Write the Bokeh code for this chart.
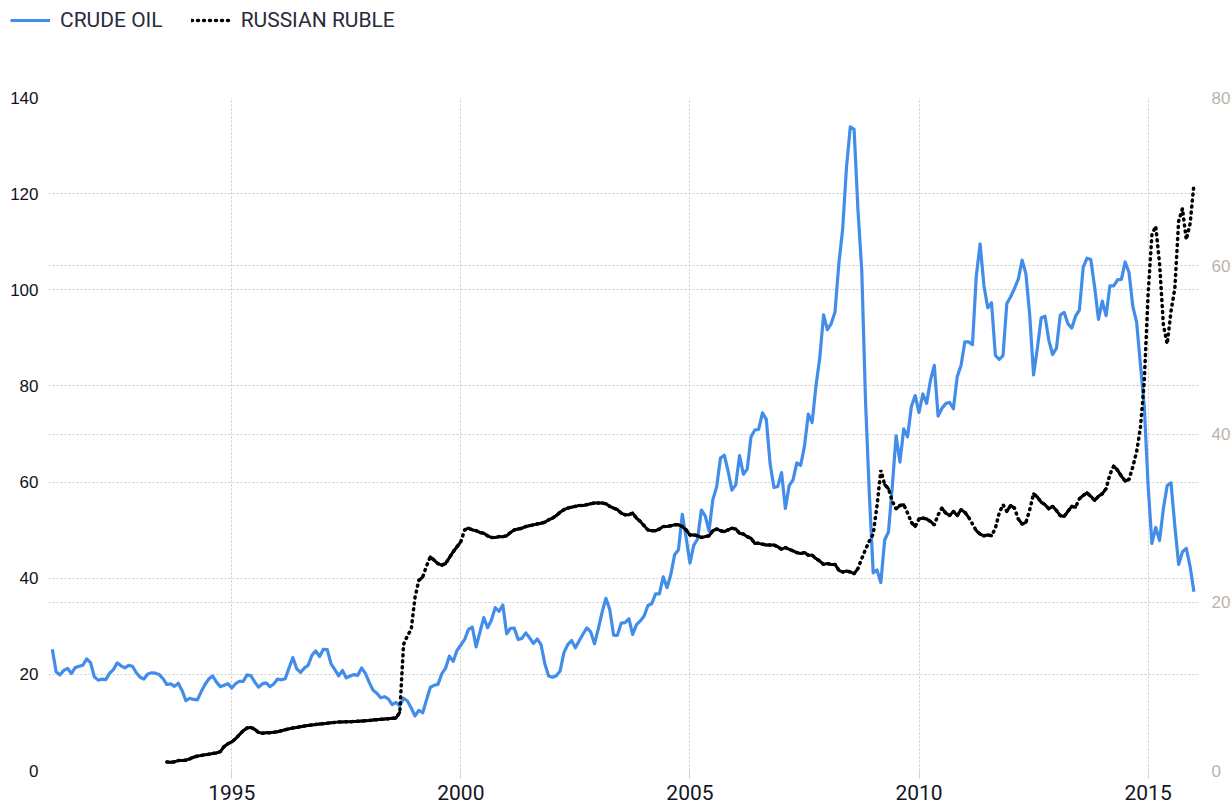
from bokeh.plotting import figure
from bokeh.layouts import column
from bokeh.models import Range1d, LinearAxis, FixedTicker, Grid, Legend, LegendItem
from bokeh.embed import file_html
from bokeh.resources import INLINE

# ---------------- data (monthly) ----------------
oil_start = (1991, 1)
oil_1991_1995 = [25.23, 20.48, 19.90, 20.83, 21.23, 20.19, 21.40, 21.69, 21.89, 23.23, 22.46, 19.50,
                 18.79, 19.01, 18.92, 20.23, 20.98, 22.39, 21.78, 21.34, 21.88, 21.69, 20.34, 19.41,
                 19.03, 20.09, 20.32, 20.25, 19.95, 19.09, 17.89, 18.01, 17.50, 18.15, 16.61, 14.52,
                 15.03, 14.78, 14.68, 16.42, 17.89, 19.06, 19.66, 18.38, 17.45, 17.72, 18.07, 17.16,
                 18.04, 18.57, 18.54, 19.90, 19.74, 18.45, 17.33, 18.02, 18.23, 17.43, 17.99, 19.03]
oil_1996_2000 = [18.86, 19.09, 21.33, 23.50, 21.17, 20.42, 21.30, 21.90, 23.97, 24.88, 23.71, 25.23,
                 25.13, 22.18, 20.97, 19.70, 20.82, 19.26, 19.66, 19.95, 19.80, 21.33, 20.19, 18.33,
                 16.72, 16.06, 15.12, 15.35, 14.91, 13.72, 14.17, 13.47, 15.03, 14.46, 13.00, 11.35,
                 12.52, 12.01, 14.68, 17.31, 17.72, 17.92, 20.10, 21.28, 23.80, 22.69, 25.00, 26.10,
                 27.26, 29.37, 29.84, 25.72, 28.79, 31.82, 29.70, 31.26, 33.88, 33.11, 34.42, 28.44]
oil_2001_2005 = [29.59, 29.61, 27.25, 27.49, 28.63, 27.60, 26.43, 27.37, 26.20, 22.17, 19.64, 19.39,
                 19.72, 20.72, 24.53, 26.18, 27.04, 25.52, 26.97, 28.39, 29.66, 28.84, 26.35, 29.46,
                 32.95, 35.83, 33.51, 28.17, 28.11, 30.66, 30.75, 31.57, 28.31, 30.34, 31.11, 32.13,
                 34.31, 34.69, 36.74, 36.75, 40.28, 38.03, 40.78, 44.90, 45.94, 53.28, 48.47, 43.15,
                 46.84, 48.15, 54.19, 52.98, 49.83, 56.35, 59.00, 64.99, 65.59, 62.26, 58.32, 59.41]
oil_2006_2010 = [65.49, 61.63, 62.69, 69.44, 70.84, 70.95, 74.41, 73.04, 63.80, 58.89, 59.08, 61.96,
                 54.51, 59.28, 60.44, 63.98, 63.46, 67.49, 74.12, 72.36, 79.92, 85.80, 94.77, 91.69,
                 92.97, 95.39, 105.45, 112.58, 125.40, 133.88, 133.37, 116.67, 104.11, 76.61, 57.31, 41.12,
                 41.71, 39.09, 47.94, 49.65, 59.03, 69.64, 64.15, 71.05, 69.41, 75.72, 77.99, 74.47,
                 78.33, 76.39, 81.20, 84.29, 73.74, 75.34, 76.32, 76.60, 75.24, 81.89, 84.25, 89.15]
oil_2011_2015 = [89.17, 88.58, 102.86, 109.53, 100.90, 96.26, 97.30, 86.33, 85.52, 86.32, 97.16, 98.56,
                 100.27, 102.20, 106.16, 103.32, 94.66, 82.30, 87.90, 94.13, 94.51, 89.49, 86.53, 87.86,
                 94.76, 95.31, 92.94, 92.02, 94.51, 95.77, 104.67, 106.57, 106.29, 100.54, 93.86, 97.63,
                 94.62, 100.82, 100.80, 102.07, 102.18, 105.79, 103.59, 96.54, 93.21, 84.40, 75.79, 59.29,
                 47.22, 50.58, 47.82, 54.45, 59.27, 59.82, 50.90, 42.87, 45.48, 46.22, 42.44, 37.19]

ruble_start = (1993, 7)
ruble_1993_1995 = [1.00, 0.99, 1.03, 1.19, 1.19, 1.23,
                   1.39, 1.58, 1.71, 1.79, 1.86, 1.94, 2.03, 2.09, 2.25, 2.85, 3.18, 3.40,
                   3.78, 4.26, 4.72, 5.05, 5.12, 4.90, 4.53, 4.43, 4.48, 4.50, 4.55, 4.61]
ruble_1996_1998 = [4.72, 4.85, 4.95, 5.05, 5.12, 5.20, 5.28, 5.35, 5.42, 5.48, 5.53, 5.57,
                   5.62, 5.67, 5.72, 5.76, 5.78, 5.79, 5.80, 5.82, 5.85, 5.88, 5.91, 5.95,
                   6.00, 6.04, 6.08, 6.12, 6.16, 6.20, 6.24, 6.90, 15.0, 16.0, 16.8, 20.6]
ruble_1999_2001 = [22.6, 23.0, 24.3, 25.4, 25.0, 24.6, 24.4, 24.6, 25.3, 26.0, 26.6, 27.2,
                   28.6, 28.8, 28.6, 28.5, 28.3, 28.2, 27.9, 27.7, 27.7, 27.8, 27.8, 27.9,
                   28.3, 28.6, 28.7, 28.8, 29.0, 29.1, 29.2, 29.3, 29.4, 29.5, 29.8, 30.0]
ruble_2002_2004 = [30.3, 30.7, 31.0, 31.2, 31.3, 31.4, 31.5, 31.5, 31.6, 31.7, 31.8, 31.8,
                   31.8, 31.7, 31.4, 31.2, 31.0, 30.6, 30.4, 30.4, 30.6, 30.0, 29.6, 29.1,
                   28.6, 28.5, 28.5, 28.7, 29.0, 29.0, 29.1, 29.2, 29.2, 29.0, 28.6, 28.0]
ruble_2005_2007 = [28.0, 27.9, 27.7, 27.8, 27.9, 28.5, 28.7, 28.5, 28.4, 28.6, 28.8, 28.7,
                   28.2, 28.1, 27.8, 27.6, 27.0, 27.0, 26.9, 26.8, 26.8, 26.8, 26.6, 26.3,
                   26.5, 26.3, 26.1, 25.9, 25.8, 25.9, 25.6, 25.6, 25.2, 24.9, 24.5, 24.6]
ruble_2008_2010 = [24.5, 24.5, 23.8, 23.6, 23.7, 23.6, 23.4, 24.0, 25.2, 26.3, 27.3, 28.1,
                   31.5, 35.7, 34.0, 33.5, 32.0, 31.1, 31.5, 31.6, 30.6, 29.5, 29.0, 29.9,
                   30.0, 29.9, 29.6, 29.2, 30.4, 31.2, 30.6, 30.3, 30.8, 30.3, 31.0, 30.7]
ruble_2011_2013 = [30.1, 29.3, 28.5, 28.1, 27.9, 28.0, 27.9, 28.8, 30.6, 31.6, 30.8, 31.5,
                   31.2, 29.9, 29.3, 29.5, 31.0, 32.9, 32.5, 31.9, 31.6, 31.1, 31.4, 30.9,
                   30.3, 30.2, 30.8, 31.4, 31.3, 32.3, 32.7, 33.0, 32.6, 32.1, 32.6, 32.9]
ruble_2014_2015 = [33.5, 35.2, 36.2, 35.7, 35.0, 34.4, 34.6, 36.1, 37.9, 40.8, 46.3, 56.6,
                   63.7, 64.7, 60.3, 53.0, 50.7, 54.6, 57.3, 65.3, 66.8, 63.1, 65.0, 69.7]

left_ticks = [0, 20, 40, 60, 80, 100, 120, 140]
right_ticks = [0, 20, 40, 60, 80]
year_ticks = [1995, 2000, 2005, 2010, 2015]
series_labels = ["CRUDE OIL", "RUSSIAN RUBLE"]

# ---------------- build series ----------------
oil = oil_1991_1995 + oil_1996_2000 + oil_2001_2005 + oil_2006_2010 + oil_2011_2015
ruble = (ruble_1993_1995 + ruble_1996_1998 + ruble_1999_2001 + ruble_2002_2004 +
         ruble_2005_2007 + ruble_2008_2010 + ruble_2011_2013 + ruble_2014_2015)


def month_end_dates(start, n):
    y, m = start
    return [y + (m + i) / 12.0 for i in range(n)]


oil_x = month_end_dates(oil_start, len(oil))
rub_x = month_end_dates(ruble_start, len(ruble))

FONT_N = "Roboto"
FONT = "Liberation Sans"
OIL_STYLE = dict(line_color="#428cea", line_width=3.2, line_join="round")
RUB_STYLE = dict(line_color="black", line_width=3.5, line_dash="1 5", line_cap="round")

# ---------------- main chart ----------------
p = figure(frame_width=1150, frame_height=673,
           min_border_left=48, min_border_right=30, min_border_top=57, min_border_bottom=38,
           x_range=Range1d(1991.0, 2016.1), y_range=Range1d(0, 140),
           output_backend="svg", toolbar_location=None,
           background_fill_color="white", border_fill_color="white")
p.outline_line_color = None
p.extra_y_ranges = {"right": Range1d(0, 80)}

GRID = "#cccccc"
p.xgrid.ticker = FixedTicker(ticks=year_ticks)
p.xgrid.grid_line_color = GRID
p.xgrid.grid_line_dash = "2 2"
p.ygrid.ticker = FixedTicker(ticks=left_ticks)
p.ygrid.grid_line_color = GRID
p.ygrid.grid_line_dash = "2 2"
rgrid = Grid(dimension=1, ticker=FixedTicker(ticks=right_ticks[1:-1]), y_range_name="right",
             grid_line_color=GRID, grid_line_dash="2 2")
p.add_layout(rgrid)

xa = p.xaxis[0]
xa.ticker = FixedTicker(ticks=year_ticks)
xa.axis_line_color = None
xa.major_tick_line_color = "#d0d0d0"
xa.major_tick_out = 8
xa.major_tick_in = 0
xa.minor_tick_line_color = None
xa.major_label_standoff = 6
xa.major_label_text_font = FONT_N
xa.major_label_text_font_size = "21px"
xa.major_label_text_color = "#141424"

ya = p.yaxis[0]
ya.ticker = FixedTicker(ticks=left_ticks)
ya.axis_line_color = None
ya.major_tick_line_color = None
ya.minor_tick_line_color = None
ya.major_label_standoff = 4
ya.major_label_text_font = FONT
ya.major_label_text_font_size = "17px"
ya.major_label_text_color = "#111122"

ra = LinearAxis(y_range_name="right", ticker=FixedTicker(ticks=right_ticks))
ra.axis_line_color = None
ra.major_tick_line_color = None
ra.minor_tick_line_color = None
ra.major_label_standoff = 7
ra.major_label_text_font = FONT
ra.major_label_text_font_size = "17px"
ra.major_label_text_color = "#bcb2a8"
p.add_layout(ra, "right")

p.line(oil_x, oil, **OIL_STYLE)
p.line(rub_x, ruble, y_range_name="right", **RUB_STYLE)
# flat stretches of the dotted line read as solid in the original
seg = [i for i in range(len(ruble) - 1) if abs(ruble[i + 1] - ruble[i]) < 0.8]
p.segment(x0=[rub_x[i] for i in seg], y0=[ruble[i] for i in seg],
          x1=[rub_x[i + 1] for i in seg], y1=[ruble[i + 1] for i in seg],
          y_range_name="right", line_color="black", line_width=3, line_cap="round")

# ---------------- legend strip (series drawn out of view, only the key shows) ----------------
lg = figure(frame_width=1228, frame_height=40, min_border=0,
            x_range=Range1d(0, 1), y_range=Range1d(-2, -1),
            output_backend="svg", toolbar_location=None,
            background_fill_color="white", border_fill_color="white")
lg.outline_line_color = None
lg.axis.visible = False
lg.grid.visible = False
k_oil = lg.line(oil_x, oil, **OIL_STYLE)
k_rub = lg.line(rub_x, ruble, **RUB_STYLE)
legend = Legend(items=[LegendItem(label=series_labels[0], renderers=[k_oil]),
                       LegendItem(label=series_labels[1], renderers=[k_rub])],
                location=(10, 8), orientation="horizontal",
                glyph_width=40, glyph_height=20, label_standoff=10, spacing=28,
                padding=0, margin=0, border_line_color=None, background_fill_alpha=0,
                label_text_font=FONT_N, label_text_font_size="21px",
                label_text_color="#2a2a3a")
lg.add_layout(legend, "center")

page = column(lg, p, spacing=0)
open("out.html", "w").write(file_html(page, INLINE))
